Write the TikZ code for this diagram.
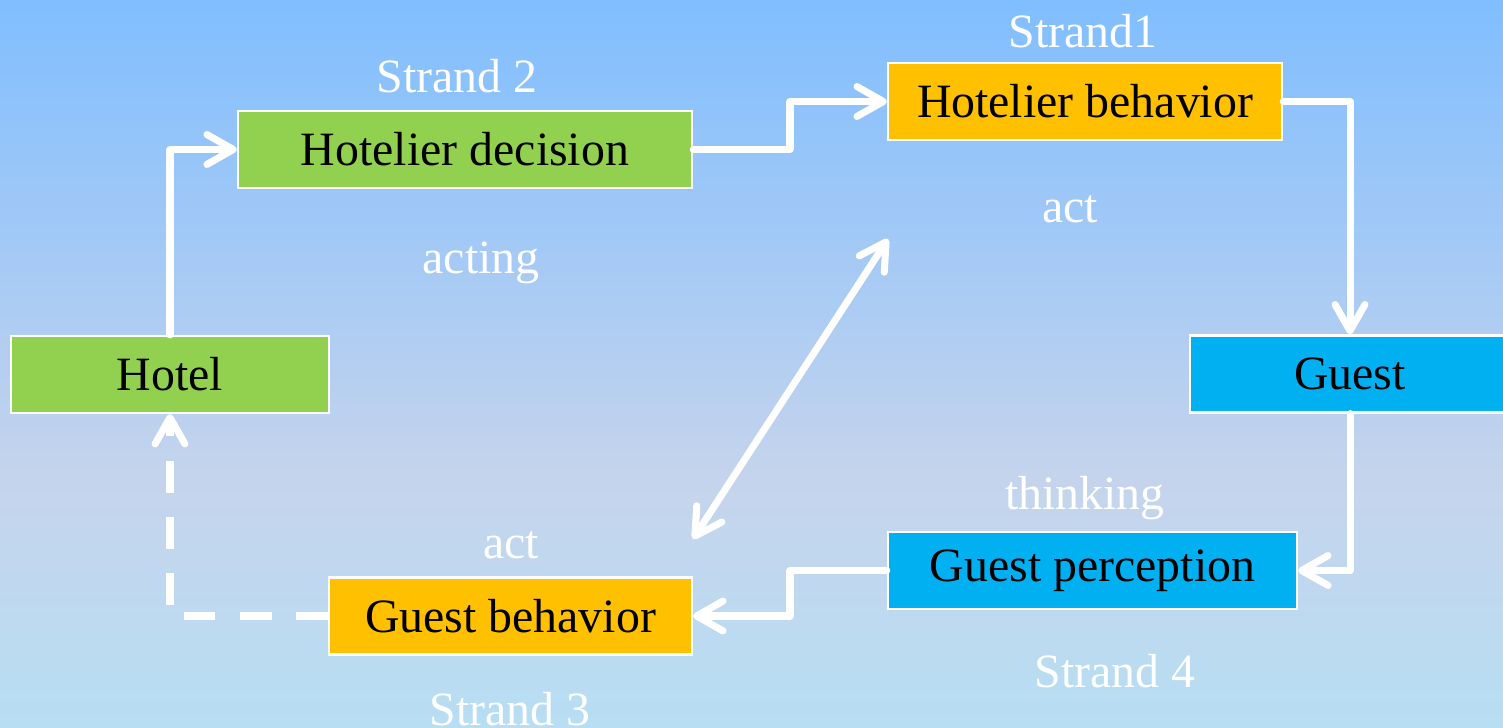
\documentclass[tikz,border=0pt]{standalone}
\usepackage{fontspec}
\setmainfont{Liberation Serif}
\usetikzlibrary{arrows.meta}
\definecolor{bgtop}{RGB}{128,190,255}
\definecolor{bgmid}{RGB}{197,212,236}
\definecolor{bgbot}{RGB}{183,222,243}
\definecolor{boxgreen}{RGB}{146,208,80}
\definecolor{boxorange}{RGB}{255,192,0}
\definecolor{boxblue}{RGB}{0,176,240}
\pgfdeclareverticalshading{bgshade}{100bp}{color(0bp)=(bgbot); color(25bp)=(bgbot); color(42bp)=(bgmid); color(75bp)=(bgtop); color(100bp)=(bgtop)}
\newcommand{\bt}[1]{\raisebox{-0.8pt}{#1}}
\begin{document}
\begin{tikzpicture}[x=0.01cm,y=-0.01cm,
  box/.style={draw=white,line width=0.6pt,inner sep=0pt,minimum height=0.77cm,text=black,font=\fontsize{13.6}{16}\selectfont},
  lbl/.style={text=white,inner sep=0pt,font=\fontsize{13.6}{16}\selectfont},
  conn/.style={draw=white,line width=2pt,line join=round,line cap=round,-{Straight Barb[length=7.5pt,width=8.5pt,line cap=round,line join=round]}},
  dconn/.style={conn,line cap=butt,dash pattern=on 9pt off 7pt}]
\shade[shading=bgshade] (0,0) rectangle (1503,728);
\useasboundingbox (0,0) rectangle (1503,728);
\node[box,fill=boxgreen,minimum width=4.54cm] (dec) at (465,149.5) {\bt{Hotelier decision}};
\node[box,fill=boxorange,minimum width=3.94cm] (beh) at (1085,101.5) {\bt{Hotelier behavior}};
\node[box,fill=boxgreen,minimum width=3.18cm] (hotel) at (170,374.5) {\bt{Hotel}};
\node[box,fill=boxblue,minimum width=3.2cm] (guest) at (1350,374) {\bt{Guest}};
\node[box,fill=boxblue,minimum width=4.09cm] (gp) at (1092.5,570.5) {\bt{Guest perception}};
\node[box,fill=boxorange,minimum width=3.63cm] (gb) at (510.5,616) {\bt{Guest behavior}};
\node[lbl] (s2) at (457,76) {Strand 2};
\node[lbl] (s1) at (1083,31) {Strand1};
\node[lbl] (act1) at (1070,209) {act};
\node[lbl] (acting) at (481,263) {acting};
\node[lbl] (think) at (1085,498) {thinking};
\node[lbl] (act2) at (511,545) {act};
\node[lbl] (s4) at (1115,671) {Strand 4};
\node[lbl] (s3) at (510,709) {Strand 3};
\coordinate (da) at (888,239);
\coordinate (db) at (693,539);
\draw[conn] (hotel.north) |- (dec.west);
\draw[conn] (dec.east) -- (790,149.5) |- (beh.west);
\draw[conn] (beh.east) -| (guest.north);
\draw[conn] (guest.south) |- (gp.east);
\draw[conn] (gp.west) -- (790,570.5) |- (gb.east);
\draw[dconn] (gb.west) -| (hotel.south);
\draw[conn,{Straight Barb[length=7.5pt,width=8.5pt,line cap=round,line join=round]}-{Straight Barb[length=7.5pt,width=8.5pt,line cap=round,line join=round]}] (db) -- (da);
\end{tikzpicture}
\end{document}
